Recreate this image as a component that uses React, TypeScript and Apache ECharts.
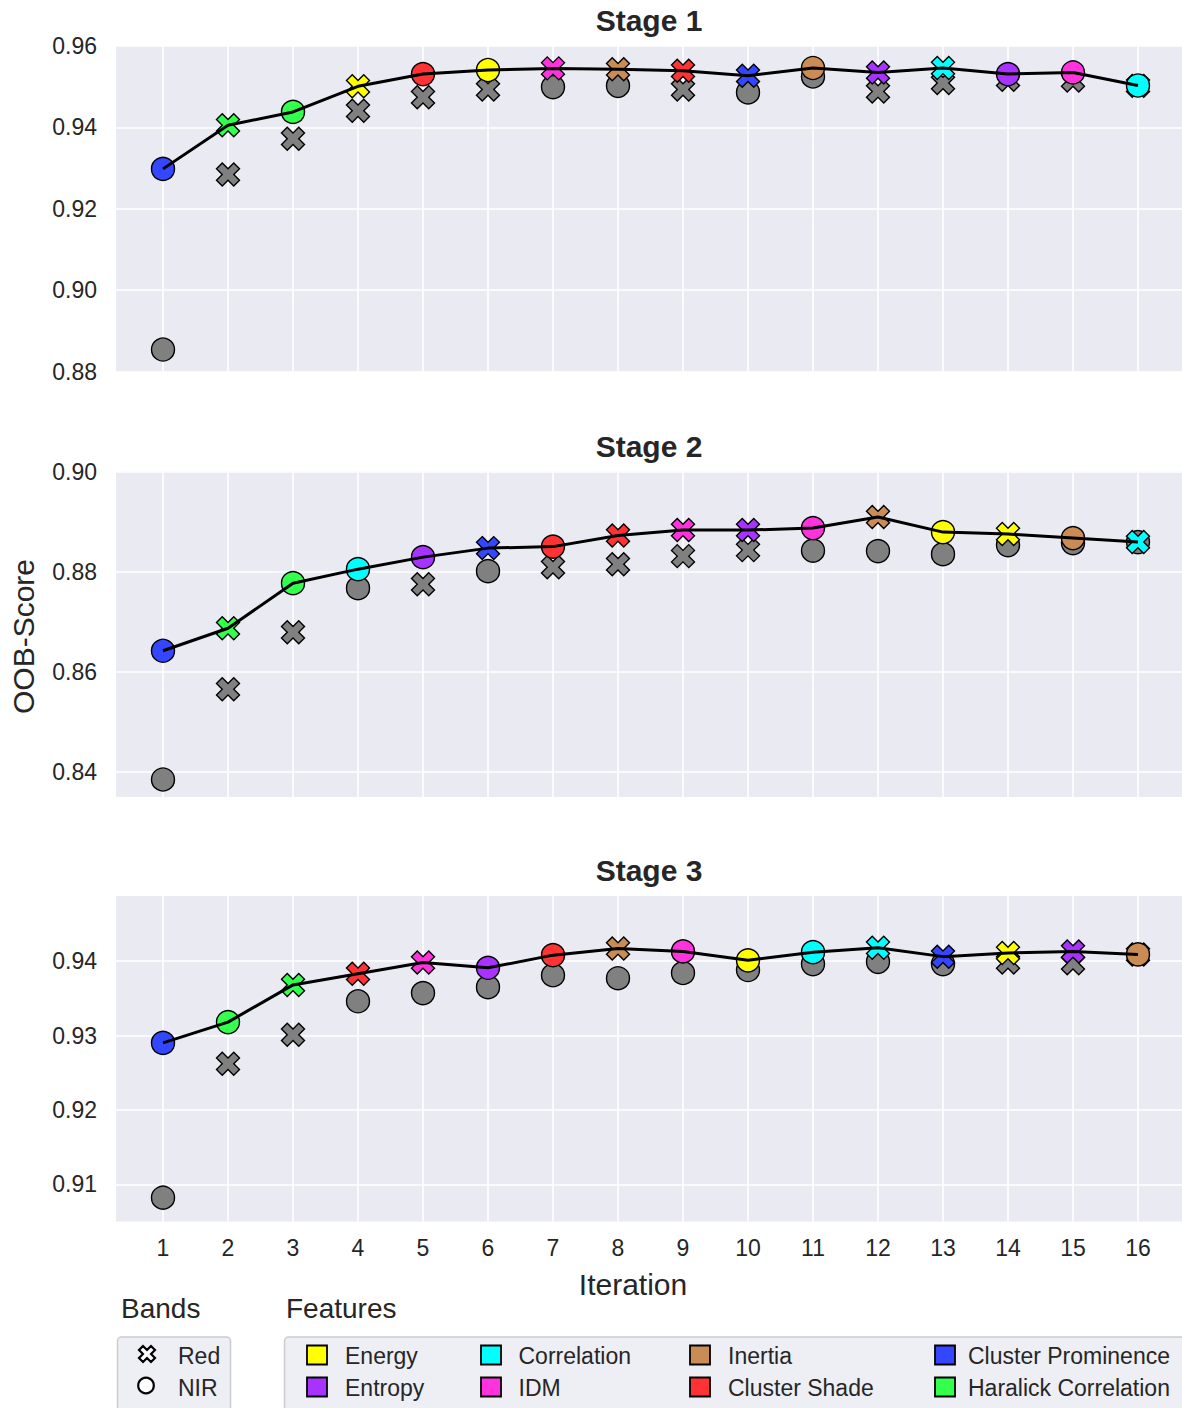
import React, { useEffect, useRef } from "react";
import * as echarts from "echarts";

const iterations = [1, 2, 3, 4, 5, 6, 7, 8, 9, 10, 11, 12, 13, 14, 15, 16];

const featureNames = [
  "Energy", "Entropy", "Correlation", "IDM",
  "Inertia", "Cluster Shade", "Cluster Prominence", "Haralick Correlation",
];
const featureColors: Record<string, string> = {
  "Energy": "#ffff00",
  "Entropy": "#a833ff",
  "Correlation": "#00ffff",
  "IDM": "#ff33dd",
  "Inertia": "#c98c54",
  "Cluster Shade": "#ff3333",
  "Cluster Prominence": "#3347ff",
  "Haralick Correlation": "#33ff4d",
};
const bandNames = ["Red", "NIR"];
const stageTitles = ["Stage 1", "Stage 2", "Stage 3"];

// Stage 1
const stage1BestScore = [0.9298, 0.9405, 0.9438, 0.9501, 0.9531, 0.9541, 0.9545, 0.9543, 0.9539, 0.9527, 0.9546, 0.9535, 0.9546, 0.9531, 0.9535, 0.9503];
const stage1BestBand = ["NIR", "Red", "NIR", "Red", "NIR", "NIR", "Red", "Red", "Red", "Red", "NIR", "Red", "Red", "NIR", "NIR", "NIR"];
const stage1BestFeature = ["Cluster Prominence", "Haralick Correlation", "Haralick Correlation", "Energy", "Cluster Shade", "Energy", "IDM", "Inertia", "Cluster Shade", "Cluster Prominence", "Inertia", "Entropy", "Correlation", "Entropy", "IDM", "Correlation"];
const stage1AltScore = [0.8854, 0.9284, 0.9372, 0.9441, 0.9474, 0.9493, 0.9499, 0.9502, 0.9493, 0.9486, 0.9525, 0.9488, 0.9509, 0.9517, 0.9515, 0.9502];
const stage1AltBand = ["NIR", "Red", "Red", "Red", "Red", "Red", "NIR", "NIR", "Red", "NIR", "NIR", "Red", "Red", "Red", "Red", "Red"];
const stage1YTicks = [0.88, 0.90, 0.92, 0.94, 0.96];
const stage1YRange = [0.88, 0.96];

// Stage 2
const stage2BestScore = [0.8642, 0.8687, 0.8777, 0.8805, 0.8829, 0.8847, 0.8850, 0.8872, 0.8883, 0.8883, 0.8887, 0.8909, 0.8879, 0.8875, 0.8867, 0.8859];
const stage2BestBand = ["NIR", "Red", "NIR", "NIR", "NIR", "Red", "NIR", "Red", "Red", "Red", "NIR", "Red", "NIR", "Red", "NIR", "Red"];
const stage2BestFeature = ["Cluster Prominence", "Haralick Correlation", "Haralick Correlation", "Correlation", "Entropy", "Cluster Prominence", "Cluster Shade", "Cluster Shade", "IDM", "Entropy", "IDM", "Inertia", "Energy", "Energy", "Inertia", "Correlation"];
const stage2AltScore = [0.8385, 0.8565, 0.8679, 0.8767, 0.8775, 0.8801, 0.8809, 0.8815, 0.8831, 0.8843, 0.8842, 0.8841, 0.8835, 0.8853, 0.8857, 0.8859];
const stage2AltBand = ["NIR", "Red", "Red", "NIR", "Red", "NIR", "Red", "Red", "Red", "Red", "NIR", "NIR", "NIR", "NIR", "NIR", "NIR"];
const stage2YTicks = [0.84, 0.86, 0.88, 0.90];
const stage2YRange = [0.835, 0.90];

// Stage 3
const stage3BestScore = [0.9290, 0.9318, 0.9368, 0.9383, 0.9398, 0.9391, 0.9408, 0.9417, 0.9413, 0.9401, 0.9412, 0.9418, 0.9406, 0.9411, 0.9413, 0.9409];
const stage3BestBand = ["NIR", "NIR", "Red", "Red", "Red", "NIR", "NIR", "Red", "NIR", "NIR", "NIR", "Red", "Red", "Red", "Red", "NIR"];
const stage3BestFeature = ["Cluster Prominence", "Haralick Correlation", "Haralick Correlation", "Cluster Shade", "IDM", "Entropy", "Cluster Shade", "Inertia", "IDM", "Energy", "Correlation", "Correlation", "Cluster Prominence", "Energy", "Entropy", "Inertia"];
const stage3AltScore = [0.9082, 0.9262, 0.9301, 0.9346, 0.9357, 0.9365, 0.9381, 0.9377, 0.9384, 0.9388, 0.9396, 0.9399, 0.9396, 0.9398, 0.9397, 0.9409];
const stage3AltBand = ["NIR", "Red", "Red", "NIR", "NIR", "NIR", "NIR", "NIR", "NIR", "NIR", "NIR", "NIR", "NIR", "Red", "Red", "Red"];
const stage3YTicks = [0.91, 0.92, 0.93, 0.94];
const stage3YRange = [0.905, 0.94875];

const xRange = [0.2769, 16.677];

const X_PATH = "path://M1,0L2,1L3,0L4,1L3,2L4,3L3,4L2,3L1,4L0,3L1,2L0,1Z";
const X_POINTS = [[1, 0], [2, 1], [3, 0], [4, 1], [3, 2], [4, 3], [3, 4], [2, 3], [1, 4], [0, 3], [1, 2], [0, 1]];

const FONT = "'Liberation Sans', Arial, Helvetica, sans-serif";
const TEXT = "#262626";

const stages = [
  { best: stage1BestScore, bestBand: stage1BestBand, bestFeature: stage1BestFeature, alt: stage1AltScore, altBand: stage1AltBand, ticks: stage1YTicks, range: stage1YRange },
  { best: stage2BestScore, bestBand: stage2BestBand, bestFeature: stage2BestFeature, alt: stage2AltScore, altBand: stage2AltBand, ticks: stage2YTicks, range: stage2YRange },
  { best: stage3BestScore, bestBand: stage3BestBand, bestFeature: stage3BestFeature, alt: stage3AltScore, altBand: stage3AltBand, ticks: stage3YTicks, range: stage3YRange },
];

const gridTops = [46, 471.5, 896];
const GRID_H = 325.5;
const GRID_LEFT = 116;
const GRID_W = 1066;

const symbolFor = (band: string) => (band === "Red" ? X_PATH : "circle");

function buildOption() {
  const grid = gridTops.map((t) => ({ left: GRID_LEFT, top: t, width: GRID_W, height: GRID_H, backgroundColor: "#EAEAF2", show: true, borderWidth: 0 }));
  const xAxis = stages.map((_, i) => ({
    type: "value",
    gridIndex: i,
    min: xRange[0],
    max: xRange[1],
    axisLine: { show: false },
    axisTick: { show: false, customValues: iterations },
    splitLine: { show: true, lineStyle: { color: "#ffffff", width: 1.6 } },
    axisLabel: {
      show: i === 2,
      customValues: iterations,
      color: TEXT,
      fontSize: 23,
      fontFamily: FONT,
      margin: 15,
    },
  }));
  const yAxis = stages.map((s, i) => ({
    type: "value",
    gridIndex: i,
    min: s.range[0],
    max: s.range[1],
    axisLine: { show: false },
    axisTick: { show: false, customValues: s.ticks },
    splitLine: { show: true, lineStyle: { color: "#ffffff", width: 1.6 } },
    axisLabel: {
      show: true,
      customValues: s.ticks,
      showMinLabel: true,
      showMaxLabel: true,
      color: TEXT,
      fontSize: 23,
      fontFamily: FONT,
      margin: 19,
      formatter: (v: number) => v.toFixed(2),
    },
  }));

  const series: any[] = [];
  stages.forEach((s, i) => {
    series.push({
      type: "scatter",
      xAxisIndex: i,
      yAxisIndex: i,
      z: 2,
      symbolSize: 23,
      itemStyle: { color: "#808080", borderColor: "#000000", borderWidth: 1.4, opacity: 1 },
      data: iterations.map((it, k) => ({ value: [it, s.alt[k]], symbol: symbolFor(s.altBand[k]) })),
    });
    series.push({
      type: "scatter",
      xAxisIndex: i,
      yAxisIndex: i,
      z: 3,
      symbolSize: 23,
      data: iterations.map((it, k) => ({
        value: [it, s.best[k]],
        symbol: symbolFor(s.bestBand[k]),
        itemStyle: { color: featureColors[s.bestFeature[k]], borderColor: "#000000", borderWidth: 1.4, opacity: 1 },
      })),
    });
    series.push({
      type: "line",
      xAxisIndex: i,
      yAxisIndex: i,
      z: 4,
      symbol: "none",
      lineStyle: { color: "#000000", width: 3 },
      data: iterations.map((it, k) => [it, s.best[k]]),
    });
  });

  const graphic: any[] = [];
  stageTitles.forEach((t, i) => {
    graphic.push({
      type: "text",
      x: GRID_LEFT + GRID_W / 2,
      y: gridTops[i] - 25.5,
      style: { text: t, fontSize: 30, fontWeight: "bold", fontFamily: FONT, fill: TEXT, align: "center", verticalAlign: "middle" },
    });
  });
  graphic.push({
    type: "text", x: 633, y: 1284,
    style: { text: "Iteration", fontSize: 30, fontFamily: FONT, fill: TEXT, align: "center", verticalAlign: "middle" },
  });
  graphic.push({
    type: "text", x: 23.5, y: 636.5, rotation: Math.PI / 2,
    style: { text: "OOB-Score", fontSize: 30, fontFamily: FONT, fill: TEXT, align: "center", verticalAlign: "middle" },
  });

  // Legend titles
  graphic.push({ type: "text", x: 121, y: 1308, style: { text: "Bands", fontSize: 28, fontFamily: FONT, fill: TEXT, align: "left", verticalAlign: "middle" } });
  graphic.push({ type: "text", x: 286, y: 1308, style: { text: "Features", fontSize: 28, fontFamily: FONT, fill: TEXT, align: "left", verticalAlign: "middle" } });

  // Legend frames
  graphic.push({ type: "rect", shape: { x: 117.5, y: 1337, width: 113, height: 100, r: 4 }, style: { fill: "#EEEEF5", stroke: "#cccccc", lineWidth: 1.5 } });
  graphic.push({ type: "rect", shape: { x: 284.5, y: 1337, width: 960, height: 100, r: 4 }, style: { fill: "#EEEEF5", stroke: "#cccccc", lineWidth: 1.5 } });

  // Bands legend entries
  const rowY = [1355.5, 1387.5];
  const u = 16 / 4;
  const cx = 147;
  graphic.push({
    type: "polygon",
    shape: { points: X_POINTS.map(([px, py]) => [cx + (px - 2) * u, rowY[0] - 1.5 + (py - 2) * u]) },
    style: { fill: "#ffffff", stroke: "#000000", lineWidth: 2.2 },
  });
  graphic.push({ type: "circle", shape: { cx: 146, cy: rowY[1] - 2, r: 7.8 }, style: { fill: "#ffffff", stroke: "#000000", lineWidth: 2.2 } });
  bandNames.forEach((b, i) => {
    graphic.push({ type: "text", x: 178, y: rowY[i], style: { text: b, fontSize: 23, fontFamily: FONT, fill: TEXT, align: "left", verticalAlign: "middle" } });
  });

  // Features legend entries (2 rows, filled column by column)
  const colSquareX = [307, 481, 690, 935];
  const colTextX = [345, 518.5, 728, 968];
  featureNames.forEach((f, i) => {
    const col = Math.floor(i / 2);
    const row = i % 2;
    graphic.push({
      type: "rect",
      shape: { x: colSquareX[col], y: rowY[row] - 10, width: 20, height: 19 },
      style: { fill: featureColors[f], stroke: "#000000", lineWidth: 1.8 },
    });
    graphic.push({
      type: "text", x: colTextX[col], y: rowY[row],
      style: { text: f, fontSize: 23, fontFamily: FONT, fill: TEXT, align: "left", verticalAlign: "middle" },
    });
  });

  return {
    animation: false,
    backgroundColor: "#ffffff",
    grid,
    xAxis,
    yAxis,
    series,
    graphic,
  };
}

export default function App() {
  const ref = useRef<HTMLDivElement>(null);
  useEffect(() => {
    if (!ref.current) return;
    const chart = echarts.init(ref.current, undefined, { renderer: "svg" });
    chart.setOption(buildOption() as any);
    return () => chart.dispose();
  }, []);
  return <div ref={ref} style={{ position: "absolute", left: 0, top: 0, width: 1182, height: 1408 }} />;
}
